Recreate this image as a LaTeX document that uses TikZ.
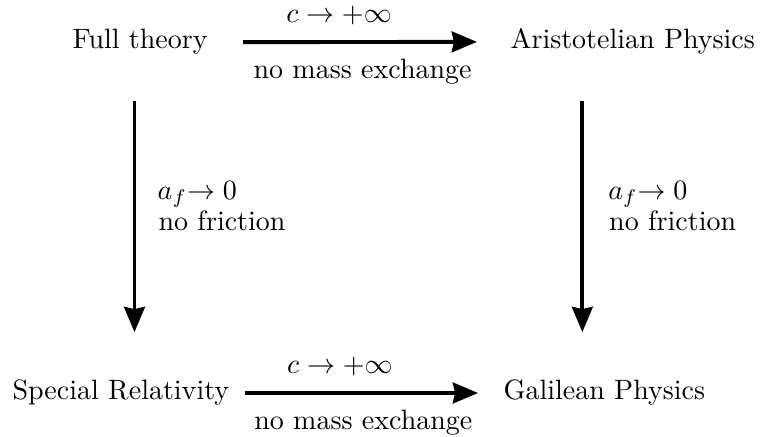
\documentclass[tikz,border=0pt]{standalone}
\usetikzlibrary{arrows.meta}
\begin{document}
\begin{tikzpicture}[x=0.35714pt,y=-0.35714pt,
  lbl/.style={inner sep=0pt,anchor=base west},
  arr/.style={line width=1.4pt,-{Stealth[length=9pt,width=7.4pt,inset=0.8pt]}},
  elab/.style={inner sep=0pt,anchor=base}]
\useasboundingbox (0,0) rectangle (763,437);
\node[lbl] (ft) at (72,49) {Full theory};
\node[lbl] (ar) at (510,49) {Aristotelian Physics};
\node[lbl] (sr) at (12,400) {Special Relativity};
\node[lbl] (gp) at (503,400) {Galilean Physics};
% horizontal arrows
\draw[arr,shorten <=12.5pt,shorten >=11.8pt] (ft.east) -- (ar.west)
  node[elab,pos=0.4336,yshift=6.8pt] {$c\to+\infty$}
  node[elab,pos=0.5116,yshift=-13.2pt] {no mass exchange};
\draw[arr,shorten <=5.4pt,shorten >=8.9pt] (sr.east) -- (gp.west)
  node[elab,pos=0.403,yshift=6.8pt] {$c\to+\infty$}
  node[elab,pos=0.489,yshift=-13.2pt] {no mass exchange};
% vertical arrows
\draw[arr,shorten <=16.3pt,shorten >=17pt] ([xshift=-2pt]ft.south) -- ([xshift=-2pt]ft.south |- sr.north)
  node[lbl,pos=0.443,xshift=7.6pt] {$a_f{\to}\;0$}
  node[lbl,pos=0.541,xshift=7.9pt] {no friction};
\draw[arr,shorten <=16.3pt,shorten >=17pt] ([xshift=-18pt]ar.south) -- ([xshift=-18pt]ar.south |- gp.north)
  node[lbl,pos=0.443,xshift=8.6pt] {$a_f{\to}\;0$}
  node[lbl,pos=0.541,xshift=8.9pt] {no friction};
\end{tikzpicture}
\end{document}
